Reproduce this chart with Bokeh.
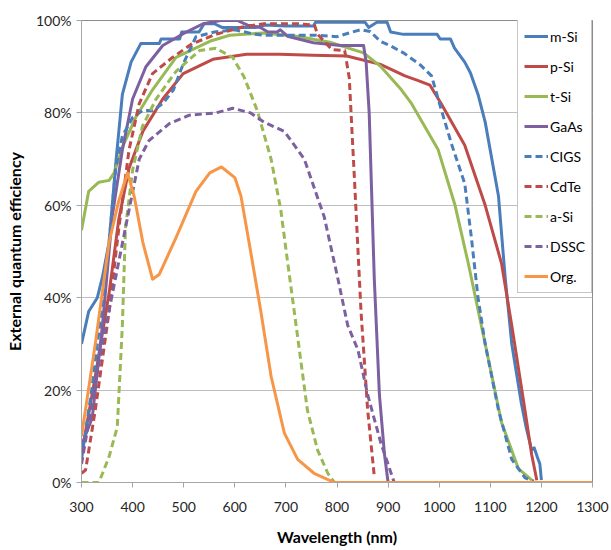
from bokeh.plotting import figure
from bokeh.models import (Legend, LegendItem, FixedTicker, Range1d)
from bokeh.embed import file_html
from bokeh.resources import INLINE

# ---- data (wavelength nm, EQE %) ----
msi_x = [300, 314, 331, 341, 354, 367, 380, 397, 416, 452, 456, 492, 496, 530, 540, 560, 575, 640, 660, 700, 754, 758, 855, 862, 878, 898, 905, 930, 996, 1002, 1022, 1030, 1050, 1061, 1076, 1090, 1116, 1129, 1142, 1161, 1170, 1181, 1186, 1192, 1197, 1200]
msi_y = [30, 37, 40, 44.5, 52, 69, 84, 91, 95, 95, 96, 96, 97.5, 97.5, 99.3, 99.3, 98.5, 98.5, 99, 98.8, 98.8, 99.6, 99.6, 98.5, 99.6, 99.6, 97.5, 97, 97, 96, 96, 94, 91, 88.7, 84, 78, 62, 44.5, 30, 17, 12, 7, 7.5, 5.5, 4, 0.5]

psi_x = [300, 327, 354, 373, 393, 420, 459, 499, 557, 623, 688, 753, 819, 885, 933, 959, 982, 1004, 1050, 1090, 1122, 1142, 1165, 1181, 1191]
psi_y = [6, 23, 41, 57, 68, 76, 83, 88.5, 91.6, 92.7, 92.7, 92.5, 92.3, 90.5, 88, 87, 86, 82, 73, 60, 47.4, 34, 17.7, 6, 0.5]

tsi_x = [300, 314, 334, 354, 364, 380, 406, 439, 485, 551, 590, 656, 721, 786, 852, 886, 926, 946, 998, 1031, 1057, 1090, 1122, 1155, 1181]
tsi_y = [54.6, 63, 65, 65.4, 67, 72.6, 79, 85, 92, 95.5, 96.8, 97.3, 96.6, 95.3, 93, 90, 85, 82, 72, 60, 47.4, 30, 13, 3, 0.5]

gaas_x = [300, 321, 341, 360, 380, 400, 426, 459, 505, 538, 572, 605, 625, 650, 665, 683, 689, 703, 754, 807, 852, 857, 863, 873, 883, 893, 900]
gaas_y = [8, 14, 34, 57.5, 72, 83, 90, 94.6, 97.5, 99.3, 100, 100, 99, 98.5, 97.5, 97.5, 98, 96.6, 95.2, 94.6, 94.6, 91, 80, 44, 19, 6, 0]

cigs_x = [300, 320, 340, 354, 367, 380, 400, 419, 439, 459, 480, 499, 524, 560, 600, 640, 660, 700, 760, 800, 830, 846, 865, 885, 905, 930, 963, 985, 998, 1024, 1050, 1063, 1076, 1090, 1116, 1142, 1168, 1185]
cigs_y = [5, 20, 38, 52, 68, 75, 79, 80.5, 80.5, 82, 85, 90.6, 96.5, 97.5, 98, 97, 96.8, 96.8, 96.8, 96.5, 97.5, 98, 97.6, 95.5, 94.5, 93, 90.4, 88, 83, 73.3, 64.7, 53, 40, 30, 15.7, 5, 1, 0.3]

cdte_x = [300, 308, 327, 354, 373, 393, 413, 439, 478, 517, 563, 615, 657, 723, 756, 762, 775, 790, 815, 824, 834, 847, 860, 873]
cdte_y = [2, 2.7, 15.7, 37, 55, 72, 82, 88.5, 92, 95, 97, 98.6, 99.3, 99.3, 99, 97, 95.5, 93.7, 93.5, 87.6, 66, 37, 15.7, 1.3]

asi_x = [300, 334, 354, 370, 380, 386, 400, 419, 446, 485, 531, 563, 596, 618, 644, 671, 690, 703, 716, 729, 742, 762, 782, 795]
asi_y = [0, 0, 5.6, 12, 34, 55, 67.6, 77, 83, 89, 93.5, 94, 92, 87.8, 80.5, 70, 59, 48, 37.3, 26.5, 15.7, 7, 2, 0]

dssc_x = [300, 341, 367, 393, 413, 432, 472, 511, 563, 596, 631, 657, 697, 736, 775, 801, 821, 841, 860, 886, 912]
dssc_y = [4, 30, 44.5, 59, 70, 74, 77.7, 79.5, 80, 81, 80, 78, 76, 70, 57.5, 44.5, 34, 28.7, 19, 8.5, 0]

org_x = [300, 327, 354, 373, 390, 403, 420, 439, 452, 485, 524, 551, 574, 600, 612, 631, 651, 671, 697, 723, 755, 795, 1300]
org_y = [10, 30, 52, 61, 67, 62, 52, 44, 45, 53, 63, 67, 68.3, 66, 62, 50, 37, 23, 10.7, 5, 2, 0, 0]

x_ticks = [300, 400, 500, 600, 700, 800, 900, 1000, 1100, 1200, 1300]
y_ticks = [0, 20, 40, 60, 80, 100]
y_tick_labels = ["0%", "20%", "40%", "60%", "80%", "100%"]

FONT = "Lato"

series = [
    ("m-Si", msi_x, msi_y, "#4A7EBB", "solid"),
    ("p-Si", psi_x, psi_y, "#BE4B48", "solid"),
    ("t-Si", tsi_x, tsi_y, "#98B954", "solid"),
    ("GaAs", gaas_x, gaas_y, "#7D60A0", "solid"),
    ("CIGS", cigs_x, cigs_y, "#4A7EBB", "7 4"),
    ("CdTe", cdte_x, cdte_y, "#BE4B48", "7 4"),
    ("a-Si", asi_x, asi_y, "#98B954", "7 4"),
    ("DSSC", dssc_x, dssc_y, "#7D60A0", "7 4"),
    ("Org.", org_x, org_y, "#F79646", "solid"),
]

p = figure(width=611, height=550, output_backend="svg", toolbar_location=None,
           x_range=Range1d(300, 1300), y_range=Range1d(0, 100),
           min_border_left=81, min_border_right=19, min_border_top=20, min_border_bottom=68)

items = []
for name, xs, ys, col, dash in series:
    r = p.line(xs, ys, line_color=col, line_width=3, line_dash=dash, line_join="round")
    items.append(LegendItem(label=name, renderers=[r]))

p.xaxis.ticker = FixedTicker(ticks=x_ticks)
p.yaxis.ticker = FixedTicker(ticks=y_ticks)
p.yaxis.major_label_overrides = {t: l for t, l in zip(y_ticks, y_tick_labels)}

for ax in (p.xaxis[0], p.yaxis[0]):
    ax.axis_line_color = "#a6a6a6"
    ax.major_tick_line_color = "#a6a6a6"
    ax.minor_tick_line_color = None
    ax.major_tick_in = 0
    ax.major_tick_out = 5
    ax.major_label_text_font = FONT
    ax.major_label_text_font_size = "14px"
    ax.major_label_text_color = "#262626"
    ax.axis_label_text_font = FONT
    ax.axis_label_text_font_style = "bold"
    ax.axis_label_text_font_size = "16px"
    ax.axis_label_text_color = "#000000"

p.xaxis.axis_label = "Wavelength (nm)"
p.yaxis.axis_label = "External quantum efficiency"
p.xaxis.major_label_standoff = 14
p.yaxis.major_label_standoff = 5
p.xaxis.axis_label_standoff = 12
p.yaxis.axis_label_standoff = 9

p.xgrid.grid_line_color = None
p.ygrid.grid_line_color = "#bfbfbf"
p.ygrid.grid_line_width = 1

p.outline_line_color = "#8c8c8c"
p.outline_line_width = 1
p.background_fill_color = "white"
p.border_fill_color = "white"

legend = Legend(items=items, location=(436, 189), orientation="vertical",
                label_text_font=FONT, label_text_font_size="14px", label_text_color="#000000",
                glyph_width=24, glyph_height=20, label_height=20, spacing=10,
                padding=6, margin=0, label_standoff=2,
                border_line_color="#8c8c8c", border_line_width=1,
                background_fill_color="white", background_fill_alpha=1.0)
p.add_layout(legend)

open("out.html", "w").write(file_html(p, INLINE))
